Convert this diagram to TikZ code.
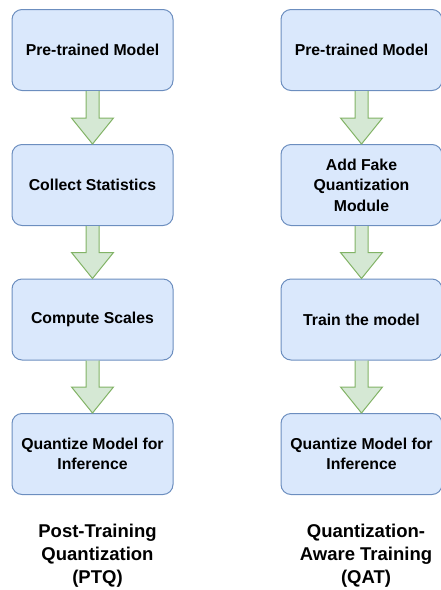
\documentclass[tikz,border=0pt]{standalone}
\usepackage{fontspec}
\setmainfont{Liberation Sans}
\definecolor{boxfill}{HTML}{DAE8FC}
\definecolor{boxline}{HTML}{6C8EBF}
\definecolor{arrfill}{HTML}{D5E8D4}
\definecolor{arrline}{HTML}{82B366}
\begin{document}
\begin{tikzpicture}[x=1pt,y=-1pt,
  stage/.style={draw=boxline, fill=boxfill, line width=1pt, rounded corners=10pt,
    minimum width=161pt, minimum height=81pt, align=center,
    font=\fontsize{15.8}{20.5}\selectfont\bfseries, inner sep=0pt},
  caption/.style={align=center, font=\fontsize{18.5}{23}\selectfont\bfseries},
  flow/.style={draw=arrline, fill=arrfill, line width=1pt, line join=miter}]
\useasboundingbox (0,0) rectangle (440,590);

% Post-training quantization column
\node[stage] (p1) at (92.5,50) {Pre-trained Model};
\node[stage] (p2) at (92.5,185) {Collect Statistics};
\node[stage] (p3) at (92.5,319.5) {Compute Scales};
\node[stage] (p4) at (92.5,454) {Quantize Model for\\Inference};

% Quantization-aware training column
\node[stage] (q1) at (361.5,50) {Pre-trained Model};
\node[stage] (q2) at (361.5,185) {Add Fake\\Quantization\\Module};
\node[stage] (q3) at (361.5,319.5) {Train the model};
\node[stage] (q4) at (361.5,454) {Quantize Model for\\Inference};

% block arrows: shaft 13 wide, head 42 wide and 26 long
\foreach \a/\b in {p1/p2,p2/p3,p3/p4,q1/q2,q2/q3,q3/q4}{
  \path (\a.south) coordinate (s) (\b.north) coordinate (t);
  \draw[flow] ([xshift=-6.5pt]s) -- ([xshift=-6.5pt,yshift=26pt]t)
    -- ([xshift=-21pt,yshift=26pt]t) -- (t) -- ([xshift=21pt,yshift=26pt]t)
    -- ([xshift=6.5pt,yshift=26pt]t) -- ([xshift=6.5pt]s);
}

\node[caption] (ptq) at (97.5,556) {Post-Training\\Quantization\\(PTQ)};
\node[caption] (qat) at (366,556) {Quantization-\\Aware Training\\(QAT)};
\end{tikzpicture}
\end{document}
